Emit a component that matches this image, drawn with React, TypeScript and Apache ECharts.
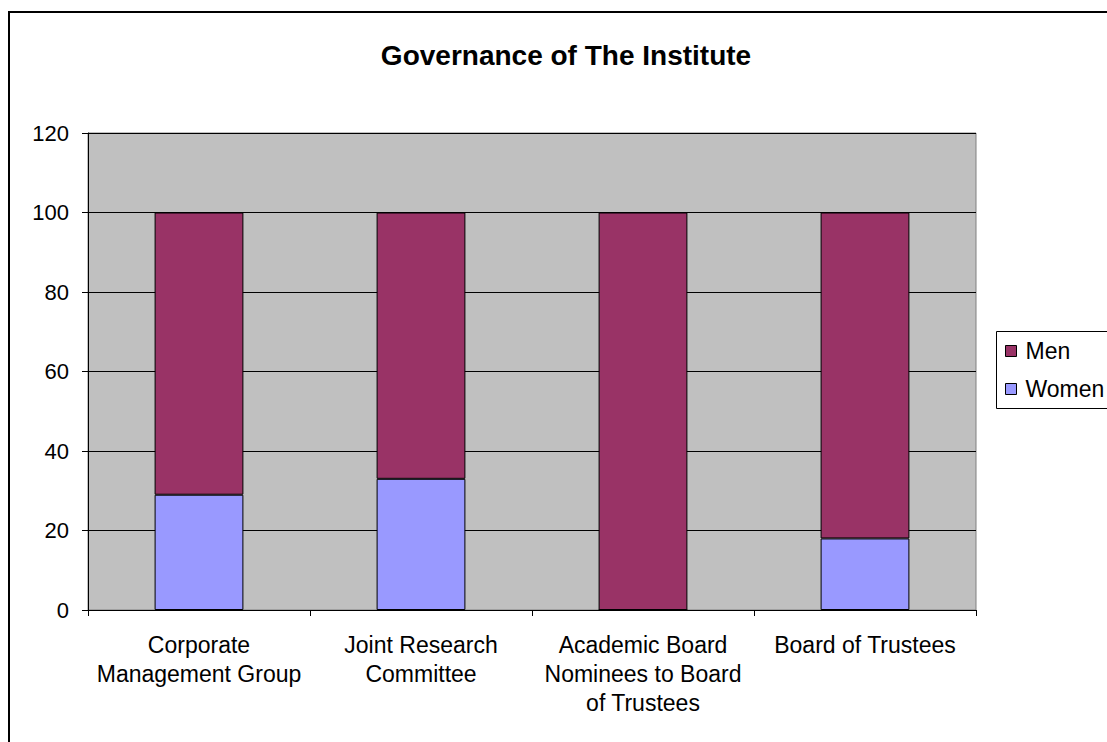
import React, { useEffect, useRef } from "react";
import * as echarts from "echarts";

const categories = [
  "Corporate\nManagement Group",
  "Joint Research\nCommittee",
  "Academic Board\nNominees to Board\nof Trustees",
  "Board of Trustees",
];
const women = [29, 33, 0, 18];
const men = [71, 67, 100, 82];
const yTicks = { min: 0, max: 120, interval: 20 };

export default function App() {
  const ref = useRef<HTMLDivElement>(null);
  useEffect(() => {
    const chart = echarts.init(ref.current!, null, { renderer: "svg" });
    const font = "Liberation Sans, Arial, sans-serif";
    chart.setOption({
      animation: false,
      backgroundColor: "#ffffff",
      textStyle: { fontFamily: font },
      title: {
        text: "Governance of The Institute",
        left: 566,
        top: 41,
        textAlign: "center",
        padding: 0,
        textStyle: { fontSize: 28, fontWeight: "bold", color: "#000", fontFamily: font },
      },
      graphic: [
        {
          type: "rect",
          shape: { x: 9, y: 12, width: 1120, height: 760 },
          style: { fill: "none", stroke: "#000", lineWidth: 2 },
          silent: true,
        },
        {
          type: "rect",
          shape: { x: 996.5, y: 331.5, width: 130, height: 77 },
          style: { fill: "#fff", stroke: "#000", lineWidth: 1 },
          silent: true,
          z: -1,
        },
      ],
      legend: {
        data: ["Men", "Women"],
        orient: "vertical",
        left: 1005,
        top: 339,
        padding: 0,
        itemWidth: 11,
        itemHeight: 11,
        itemGap: 14,
        icon: "rect",
        textStyle: { fontSize: 23, color: "#000", fontFamily: font, padding: [0, 0, 0, 4], lineHeight: 24 },
        itemStyle: { borderColor: "#000", borderWidth: 1 },
      },
      grid: {
        left: 88,
        top: 133,
        width: 888,
        height: 477,
        show: true,
        backgroundColor: "#C0C0C0",
        borderColor: "#808080",
        borderWidth: 1,
      },
      xAxis: {
        type: "category",
        data: categories,
        boundaryGap: true,
        axisLine: { show: true, lineStyle: { color: "#000", width: 1 } },
        axisTick: { show: true, length: 6, lineStyle: { color: "#000" } },
        axisLabel: {
          fontSize: 23,
          color: "#000",
          lineHeight: 29,
          margin: 20,
          fontFamily: font,
          interval: 0,
        },
      },
      yAxis: {
        type: "value",
        min: yTicks.min,
        max: yTicks.max,
        interval: yTicks.interval,
        axisLine: { show: true, lineStyle: { color: "#000", width: 1 } },
        axisTick: { show: true, length: 6, lineStyle: { color: "#000" } },
        axisLabel: { fontSize: 22, color: "#000", margin: 19, fontFamily: font },
        splitLine: { show: true, lineStyle: { color: "#000", width: 1 } },
      },
      series: [
        {
          name: "Women",
          type: "bar",
          stack: "total",
          data: women,
          barWidth: "40%",
          itemStyle: { color: "#9999FF", borderColor: "#000", borderWidth: 1 },
        },
        {
          name: "Men",
          type: "bar",
          stack: "total",
          data: men,
          barWidth: "40%",
          itemStyle: { color: "#993366", borderColor: "#000", borderWidth: 1 },
        },
      ],
    });
    return () => chart.dispose();
  }, []);
  return (
    <div
      ref={ref}
      style={{ position: "fixed", left: 0, top: 0, width: 1107, height: 742 }}
    />
  );
}
